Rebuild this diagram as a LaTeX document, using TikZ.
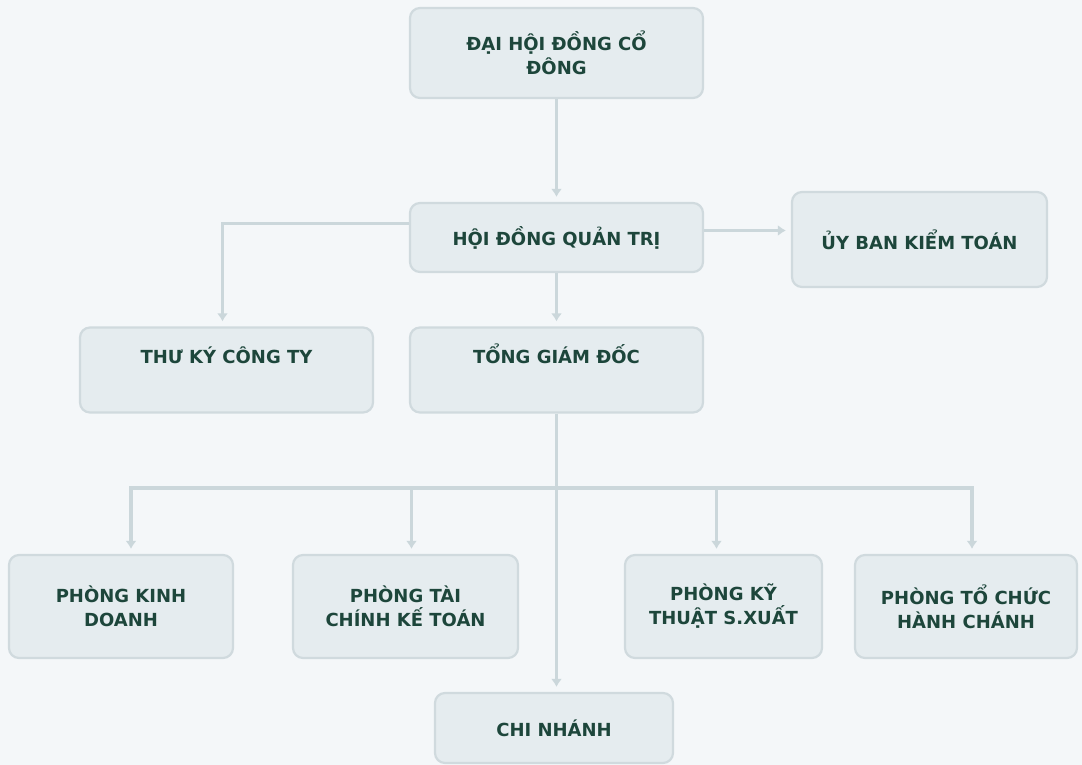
\documentclass[tikz,border=0pt]{standalone}
\usepackage{fontspec}
\setmainfont{DejaVu Sans}
\usepackage{xcolor}
\usetikzlibrary{arrows.meta,positioning,calc}
\definecolor{bgcol}{HTML}{F4F7F9}
\definecolor{boxfill}{HTML}{E5ECEF}
\definecolor{boxline}{HTML}{D0DADE}
\definecolor{linkcol}{HTML}{CBD7DB}
\definecolor{txtcol}{HTML}{1D463B}
\tikzset{>={Latex[length=8pt,width=11pt]}}
\tikzset{
	unit/.style={draw=boxline, line width=2.2pt, fill=boxfill, rounded corners=10pt,
		text=txtcol, font=\fontsize{18}{24}\selectfont\bfseries, align=center, inner sep=0pt},
	topunit/.style={unit, inner ysep=0pt, text height=36pt, text depth=49pt},
	link/.style={draw=linkcol, line width=3.5pt, shorten >=5pt},
}

\begin{document}
\begin{tikzpicture}[x=1pt,y=-1pt]
	% Background
	\fill[bgcol] (0,0) rectangle (1082,765);
	\useasboundingbox (0,0) rectangle (1082,765);

	% Defining the boxes
	\node[unit, minimum width=293pt, minimum height=90pt] (dhd) at (556.5,53) {ĐẠI HỘI ĐỒNG CỔ\\ĐÔNG}; %top
	\node[unit, minimum width=293pt, minimum height=69pt] (hdqt) at (556.5,237.5) {HỘI ĐỒNG QUẢN TRỊ};
	\node[unit, minimum width=255pt, minimum height=95pt] (ubkt) at (919.5,239.5) {ỦY BAN KIỂM TOÁN};
	\node[topunit, minimum width=293pt] (tkct) at (226.5,370) {THƯ KÝ CÔNG TY};
	\node[topunit, minimum width=293pt] (tgd) at (556.5,370) {TỔNG GIÁM ĐỐC};
	\node[unit, minimum width=224pt, minimum height=103pt] (pkd) at (121,606.5) {PHÒNG KINH\\DOANH};
	\node[unit, minimum width=225pt, minimum height=103pt] (ptc) at (405.5,606.5) {PHÒNG TÀI\\CHÍNH KẾ TOÁN};
	\node[unit, minimum width=197pt, minimum height=103pt] (pkt) at (723.5,606.5) {PHÒNG KỸ\\THUẬT S.XUẤT};
	\node[unit, minimum width=222pt, minimum height=103pt] (ptchc) at (966,606.5) {PHÒNG TỔ CHỨC\\HÀNH CHÁNH};
	\node[unit, minimum width=238pt, minimum height=70pt] (cn) at (554,728) {CHI NHÁNH}; %bottom
	\coordinate (bus) at (556.5,488);
	\coordinate (tkct-in) at ([xshift=-4pt]tkct.north);
	\foreach \dept/\dx in {pkd/10,ptc/6,pkt/-7,ptchc/6}
		\coordinate (\dept-in) at ([xshift=\dx pt]\dept.north);

	% Drawing the links
	\draw[link,->] (dhd) -- (hdqt);
	\draw[link,->] (hdqt) -- (tgd);
	\draw[link,->] ([yshift=14pt]hdqt.west) -| (tkct-in);
	\draw[link,->] ([yshift=7pt]hdqt.east) -- ([yshift=7pt]hdqt.east -| ubkt.west);
	\draw[link,->] (tgd.south) -- (tgd.south |- cn.north);
	\draw[link, shorten >=0pt, line cap=rect] (bus -| pkd-in) -- (bus -| ptchc-in);
	\foreach \dept in {pkd,ptc,pkt,ptchc}
		\draw[link,->] (bus -| \dept-in) -- (\dept-in);
\end{tikzpicture}
\end{document}
